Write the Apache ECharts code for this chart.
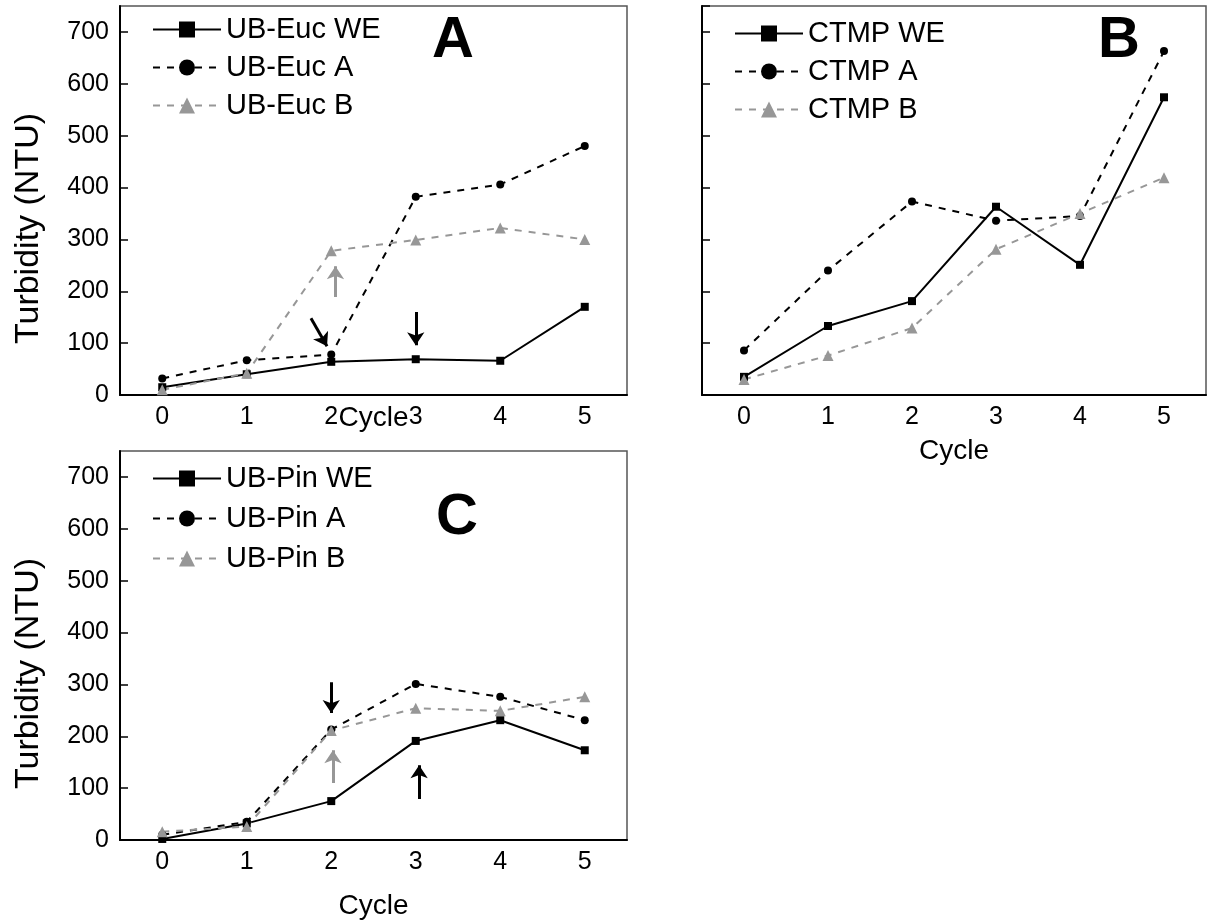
<!DOCTYPE html>
<html>
<head>
<meta charset="utf-8">
<script src="https://cdn.jsdelivr.net/npm/echarts@6/dist/echarts.min.js"></script>
<style>
  html, body { margin: 0; padding: 0; background: #fff; }
  #chart { width: 1208px; height: 922px; }
</style>
</head>
<body>
<div id="chart"></div>
<script>
// categories
var cycles = ['0', '1', '2', '3', '4', '5'];

// A: UB-Euc
var eucWE = [15, 40, 64, 69, 66, 170];
var eucA  = [32, 67, 78, 382, 406, 480];
var eucB  = [10, 42, 278, 299, 322, 300];

// B: CTMP
var ctmpWE = [35, 133, 181, 363, 251, 574];
var ctmpA  = [86, 240, 373, 336, 345, 663];
var ctmpB  = [30, 76, 129, 281, 350, 419];

// C: UB-Pin
var pinWE = [2, 32, 75, 191, 231, 173];
var pinA  = [10, 35, 213, 301, 276, 231];
var pinB  = [16, 26, 211, 254, 249, 276];

// annotation arrows, [from, to] in (cycle, NTU)
var arrowsBlackA = [[[1.76, 148], [1.95, 94]], [[3.0, 160], [3.0, 96]]];
var arrowsGrayA  = [[[2.05, 189], [2.05, 248]]];
var arrowsBlackC = [[[2.0, 304], [2.0, 245]], [[3.04, 79], [3.04, 144]]];
var arrowsGrayC  = [[[2.02, 110], [2.02, 173]]];

var FONT = '"Liberation Sans", Arial, sans-serif';
var GRAY = '#979797';

var grids = [
  { left: 120, top: 6, width: 507, height: 389 },
  { left: 702, top: 6, width: 504, height: 389 },
  { left: 120, top: 451, width: 507, height: 389 }
];
grids.forEach(function (g) {
  g.show = true;
  g.borderColor = '#555';
  g.borderWidth = 1.5;
  g.containLabel = false;
});

function catAxis(i, nameGap) {
  return {
    type: 'category', gridIndex: i, data: cycles, boundaryGap: true,
    name: 'Cycle', nameLocation: 'middle', nameGap: nameGap, nameMoveOverlap: false,
    nameTextStyle: { fontSize: 28, color: '#000', fontFamily: FONT },
    axisLine: { onZero: false, lineStyle: { color: '#000', width: 2 } },
    axisTick: { alignWithLabel: true, inside: true, length: 8, lineStyle: { color: '#000', width: 1.5 } },
    axisLabel: { fontSize: 25, color: '#000', fontFamily: FONT, margin: 10 },
    splitLine: { show: false }
  };
}
function hiddenX(i) {
  return { type: 'value', gridIndex: i, min: -0.5, max: 5.5, show: false, axisLine: { onZero: false } };
}
function valAxis(i, withName) {
  return {
    type: 'value', gridIndex: i, min: 0, max: 750, interval: 100,
    name: withName ? 'Turbidity (NTU)' : '', nameLocation: 'middle', nameGap: 74, nameMoveOverlap: false,
    nameTextStyle: { fontSize: 34, color: '#000', fontFamily: FONT, padding: [0, 56, 0, 0] },
    axisLine: { show: true, onZero: false, lineStyle: { color: '#000', width: 2 } },
    axisTick: { show: true, inside: true, length: 8, lineStyle: { color: '#000', width: 1.5 } },
    axisLabel: { show: withName, showMaxLabel: false, fontSize: 25, color: '#000', fontFamily: FONT, margin: 11 },
    splitLine: { show: false }
  };
}

function we(name, data, i) {
  return { name: name, type: 'line', xAxisIndex: i, yAxisIndex: i, data: data,
    symbol: 'rect', symbolSize: 8,
    lineStyle: { color: '#000', width: 2, type: 'solid' },
    itemStyle: { color: '#000' } };
}
function sa(name, data, i) {
  return { name: name, type: 'line', xAxisIndex: i, yAxisIndex: i, data: data,
    symbol: 'circle', symbolSize: 8,
    lineStyle: { color: '#000', width: 2, type: [7, 7] },
    itemStyle: { color: '#000' } };
}
function sb(name, data, i) {
  return { name: name, type: 'line', xAxisIndex: i, yAxisIndex: i, data: data,
    symbol: 'triangle', symbolSize: 11,
    lineStyle: { color: GRAY, width: 2, type: [7, 7] },
    itemStyle: { color: GRAY } };
}
function arrows(list, color, i) {
  return { type: 'lines', coordinateSystem: 'cartesian2d', xAxisIndex: i + 3, yAxisIndex: i,
    symbol: ['none', 'arrow'], symbolSize: [9, 13], silent: true, z: 5,
    lineStyle: { color: color, width: 3, opacity: 1 },
    data: list.map(function (a) { return { coords: a }; }) };
}
function legend(names, left, top, gap) {
  return { data: names, orient: 'vertical', left: left, top: top, padding: 0,
    itemWidth: 68, itemHeight: 20, itemGap: gap, selectedMode: false,
    textStyle: { fontSize: 29, color: '#000', fontFamily: FONT } };
}
function letter(t, x, y) {
  return { type: 'text', x: x, y: y, silent: true,
    style: { text: t, font: 'bold 58px ' + FONT, fill: '#000', align: 'center', verticalAlign: 'middle' } };
}

var chart = echarts.init(document.getElementById('chart'));
chart.setOption({
  animation: false,
  backgroundColor: '#fff',
  grid: grids,
  xAxis: [catAxis(0, 9), catAxis(1, 42), catAxis(2, 52), hiddenX(0), hiddenX(1), hiddenX(2)],
  yAxis: [valAxis(0, true), valAxis(1, false), valAxis(2, true)],
  legend: [
    legend(['UB-Euc WE', 'UB-Euc A', 'UB-Euc B'], 152, 15, 9),
    legend(['CTMP WE', 'CTMP A', 'CTMP B'], 734, 19, 9),
    legend(['UB-Pin WE', 'UB-Pin A', 'UB-Pin B'], 152, 464, 11)
  ],
  graphic: [letter('A', 453, 41), letter('B', 1119, 41), letter('C', 457, 518)],
  series: [
    we('UB-Euc WE', eucWE, 0), sa('UB-Euc A', eucA, 0), sb('UB-Euc B', eucB, 0),
    we('CTMP WE', ctmpWE, 1), sa('CTMP A', ctmpA, 1), sb('CTMP B', ctmpB, 1),
    we('UB-Pin WE', pinWE, 2), sa('UB-Pin A', pinA, 2), sb('UB-Pin B', pinB, 2),
    arrows(arrowsBlackA, '#000', 0), arrows(arrowsGrayA, GRAY, 0),
    arrows(arrowsBlackC, '#000', 2), arrows(arrowsGrayC, GRAY, 2)
  ]
});
</script>
</body>
</html>
